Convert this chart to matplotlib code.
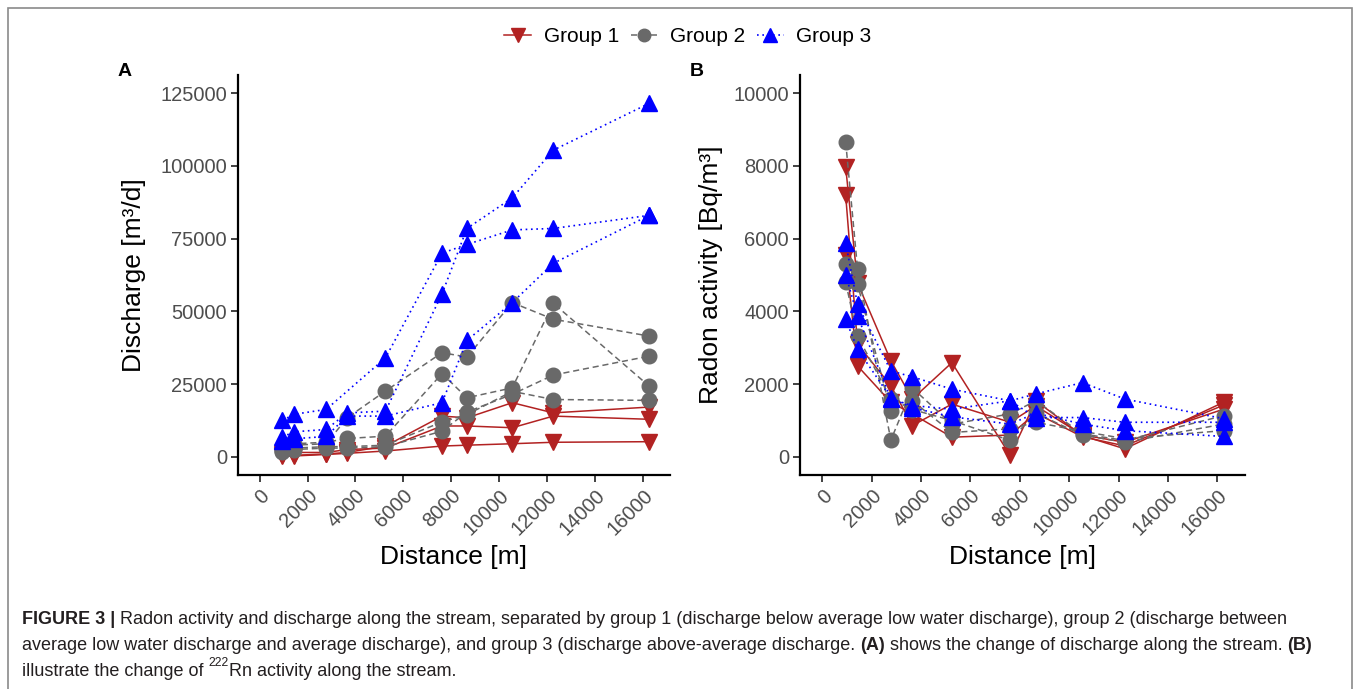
import numpy as np
import matplotlib
matplotlib.use("Agg")
import matplotlib.pyplot as plt
from matplotlib.lines import Line2D
from matplotlib.patches import Rectangle

plt.rcParams['font.family'] = ['Liberation Sans', 'DejaVu Sans']

# ---------------- data ----------------
distance = [950, 1430, 2780, 3650, 5250, 7610, 8650, 10540, 12250, 16250]
xticks = [0, 2000, 4000, 6000, 8000, 10000, 12000, 14000, 16000]
yticks_a = [0, 25000, 50000, 75000, 100000, 125000]
yticks_b = [0, 2000, 4000, 6000, 8000, 10000]

# Panel A: discharge [m3/d]
discharge_g1 = [
    [200, 500, 1000, 1500, 3700, 14000, 13400, 18600, 15100, 17100],
    [1000, 1500, 1500, 2500, 3000, 10600, 10600, 10000, 14000, 12900],
    [500, 300, 800, 1200, 2000, 3700, 4000, 4500, 5000, 5200],
]
discharge_g2 = [
    [3000, 4000, 4500, 13400, 22600, 35800, 34300, 53000, 47300, 41500],
    [2200, 4500, 5000, 6300, 7100, 28600, 20300, 23700, 52800, 24300],
    [1500, 2500, 3000, 3000, 3500, 8800, 15400, 21500, 28100, 34600],
    [2000, 3000, 3500, 3500, 4000, 12000, 14500, 22500, 19700, 19400],
]
discharge_g3 = [
    [6800, 8600, 9400, 15100, 15700, 56000, 78500, 89000, 105400, 121500],
    [12500, 14600, 16300, np.nan, 34000, 70000, 73000, 78000, 78500, 83000],
    [5400, 6200, 7000, 14000, 14000, 18600, 40000, 53000, 66500, 83000],
]

# Panel B: radon activity [Bq/m3]
radon_g1 = [
    [7970, 4780, 2640, 1590, 2590, 40, 1540, 580, 220, 1500],
    [7190, 3100, 1950, 860, 1450, 950, 1400, 600, 400, 1310],
    [5540, 2500, 1500, 1180, 540, 600, 1200, 550, 300, 1420],
]
radon_g2 = [
    [8660, 5170, 460, 1890, 900, 1180, 1540, 630, 450, 1130],
    [5300, 4750, 1260, 1540, 670, 770, 950, 700, 500, 720],
    [4800, 3320, 1600, 1300, 1000, 450, 1200, 600, 400, 900],
]
radon_g3 = [
    [5880, 4190, 2360, 2200, 1860, 1540, 1730, 2040, 1590, 1050],
    [5010, 3870, 1590, 1410, 1310, 1540, 1080, 1080, 950, 950],
    [3780, 2960, 1620, 1350, 1100, 900, 1200, 900, 720, 560],
]

groups = ["Group 1", "Group 2", "Group 3"]

# ---------------- styles ----------------
RED = "#B22222"
GRAY = "#696969"
BLUE = "#0000FF"
styles = [
    dict(color=RED, ls="-", marker="v", ms=11.5, lw=1.1),
    dict(color=GRAY, ls=(0, (4, 2.5)), marker="o", ms=10.5, lw=1.1),
    dict(color=BLUE, ls=(0, (1, 2.2)), marker="^", ms=11.5, lw=1.2),
]

W, H = 1360, 689
fig = plt.figure(figsize=(W / 100, H / 100), dpi=100)


def fx(px):
    return px / W


def fy(py):
    return 1 - py / H


axA = fig.add_axes([fx(238), fy(475), fx(432), 400 / H])
axB = fig.add_axes([fx(800), fy(475), fx(445), 400 / H])


def draw(ax, series_by_group):
    x = np.array(distance, dtype=float)
    for gi, series in enumerate(series_by_group):
        st = styles[gi]
        for s in series:
            y = np.array(s, dtype=float)
            m = ~np.isnan(y)
            ax.plot(x[m], y[m], color=st["color"], ls=st["ls"], lw=st["lw"],
                    marker=st["marker"], ms=st["ms"], mec=st["color"],
                    mfc=st["color"], zorder=2 + gi)


draw(axA, [discharge_g1, discharge_g2, discharge_g3])
draw(axB, [radon_g1, radon_g2, radon_g3])

for ax, yt, ylim, ylab, ylx in [
    (axA, yticks_a, (-6250, 131250), "Discharge [m³/d]", -0.240),
    (axB, yticks_b, (-500, 10500), "Radon activity [Bq/m³]", -0.200),
]:
    ax.set_xlim(-900, 17120)
    ax.set_ylim(*ylim)
    ax.set_xticks(xticks)
    ax.set_xticklabels([str(v) for v in xticks], rotation=45, ha="right",
                       rotation_mode="anchor")
    ax.set_yticks(yt)
    ax.set_yticklabels([str(v) for v in yt])
    for sp in ["top", "right"]:
        ax.spines[sp].set_visible(False)
    for sp in ["left", "bottom"]:
        ax.spines[sp].set_linewidth(1.6)
        ax.spines[sp].set_color("black")
    ax.tick_params(axis="both", direction="out", length=5, width=1.3,
                   color="#333333", labelsize=14.5, labelcolor="#4d4d4d", pad=3)
    ax.set_xlabel("Distance [m]", fontsize=19)
    ax.xaxis.label.set_va("center")
    ax.xaxis.set_label_coords(0.5, -0.205)
    ax.set_ylabel(ylab, fontsize=19)
    ax.yaxis.label.set_va("center")
    ax.yaxis.set_label_coords(ylx, 0.5)
    ax.patch.set_alpha(0)

fig.text(fx(125), fy(72), "A", fontsize=14, fontweight="bold", ha="center", va="center")
fig.text(fx(697), fy(72), "B", fontsize=14, fontweight="bold", ha="center", va="center")

# legend
handles = [Line2D([0], [0], color=st["color"], ls=st["ls"], lw=st["lw"],
                  marker=st["marker"], ms=st["ms"] - 1.5, mec=st["color"], mfc=st["color"])
           for st in styles]
fig.legend(handles, groups, loc="center", bbox_to_anchor=(fx(688), fy(37)),
           ncol=3, frameon=False, fontsize=15, handlelength=1.3,
           handletextpad=0.6, columnspacing=0.55)

# border
fig.add_artist(Rectangle((fx(8), -0.02), fx(1344), fy(8) + 0.02, transform=fig.transFigure,
                         fill=False, ec="#8a8a8a", lw=1.2))

# caption
cap_font = ['Liberation Sans Narrow', 'Liberation Sans', 'DejaVu Sans']
line1 = [("FIGURE 3 | ", "bold", 0), ("Radon activity and discharge along the stream, separated by group 1 "
         "(discharge below average low water discharge), group 2 (discharge between", "normal", 0)]
line2 = [("average low water discharge and average discharge), and group 3 (discharge above-average "
          "discharge. ", "normal", 0), ("(A)", "bold", 0),
         (" shows the change of discharge along the stream. ", "normal", 0), ("(B)", "bold", 0)]
line3 = [("illustrate the change of ", "normal", 0), ("222", "normal", 1),
         ("Rn activity along the stream.", "normal", 0)]

renderer = fig.canvas.get_renderer()


def draw_runs(x0, y0, runs, size, measure_only=False):
    x = x0
    arts = []
    for txt, w, sup in runs:
        fs = size * 0.68 if sup else size
        yy = y0 - (size * 0.42 / 72 * 100) if sup else y0
        t = fig.text(fx(x), fy(yy), txt, fontsize=fs, fontweight=w, family=cap_font,
                     ha="left", va="center", color="#231f20")
        bb = t.get_window_extent(renderer)
        x += bb.width
        arts.append(t)
    if measure_only:
        for a in arts:
            a.remove()
    return x - x0


base = 12.0
wid = draw_runs(22, 620, line1, base, measure_only=True)
size = base * (1290 - 22) / wid
draw_runs(22, 620, line1, size)
draw_runs(22, 646, line2, size)
draw_runs(22, 671, line3, size)

fig.savefig("out.png", dpi=100)
